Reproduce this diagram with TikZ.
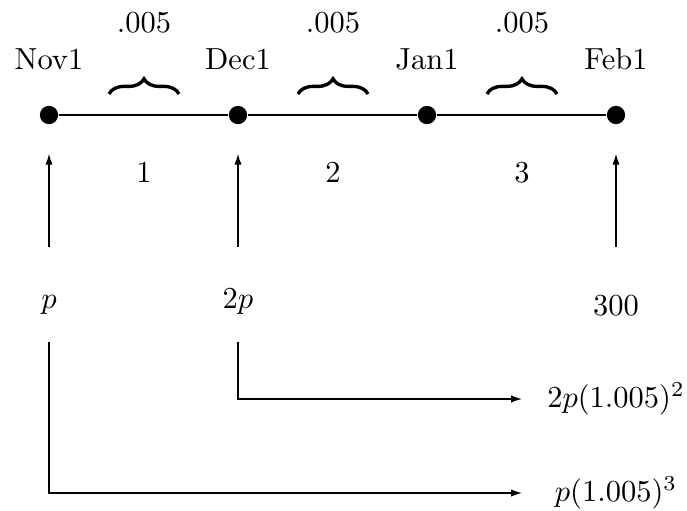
\documentclass[tikz,border=0pt]{standalone}
\usetikzlibrary{arrows.meta,decorations.pathreplacing}
\begin{document}
\begin{tikzpicture}[x=0.328pt,y=-0.328pt,
  dot/.style={circle,fill=black,inner sep=0pt,minimum size=6pt},
  lbl/.style={anchor=base,inner sep=0pt},
  brc/.style={decorate,decoration={brace,amplitude=5pt},line width=1.1pt},
  arr/.style={-{Latex[length=3.6pt,width=2.4pt]},line width=0.4pt},
  tline/.style={line width=0.45pt}]
\useasboundingbox (0,0) rectangle (687,510);

% dates on the time line
\node[dot] (d1) at (49,115) {};
\node[dot] (d2) at (238,115) {};
\node[dot] (d3) at (427,115) {};
\node[dot] (d4) at (616,115) {};
\draw[tline] (d1) -- (d2) -- (d3) -- (d4);

\node[lbl] (nov) at (49,69) {Nov1};
\node[lbl] (dec) at (238,69) {Dec1};
\node[lbl] (jan) at (427,69) {Jan1};
\node[lbl] (feb) at (616,69) {Feb1};

% monthly rate over each period
\coordinate (bl1) at (109,94); \coordinate (br1) at (179,94);
\coordinate (bl2) at (298,94); \coordinate (br2) at (368,94);
\coordinate (bl3) at (487,94); \coordinate (br3) at (557,94);
\draw[brc] (bl1) -- (br1);
\draw[brc] (bl2) -- (br2);
\draw[brc] (bl3) -- (br3);
\node[lbl] (r1) at (144,32) {.005};
\node[lbl] (r2) at (333,32) {.005};
\node[lbl] (r3) at (522,32) {.005};

% period numbers
\node[lbl] (n1) at (144,182) {1};
\node[lbl] (n2) at (333,182) {2};
\node[lbl] (n3) at (522,182) {3};

% payments
\node[lbl] (p1) at (49,308) {$p$};
\node[lbl] (p2) at (238,308) {$2p$};
\node[lbl] (p3) at (616,315) {300};

\coordinate (u1) at (49,247);
\coordinate (u2) at (238,247);
\coordinate (u4) at (616,247);
\draw[arr] (u1) -- ([yshift=-29*0.328pt]d1.south);
\draw[arr] (u2) -- ([yshift=-29*0.328pt]d2.south);
\draw[arr] (u4) -- ([yshift=-29*0.328pt]d4.south);

% accumulated values at Feb1
\node (v2) at (616,399) {$2p(1.005)^2$};
\node (v1) at (616,493) {$p(1.005)^3$};
\coordinate (s2) at (238,342);
\coordinate (s1) at (49,342);
\coordinate (e2) at (522,399);
\coordinate (e1) at (522,493);
\draw[arr] (s2) |- (e2);
\draw[arr] (s1) |- (e1);
\end{tikzpicture}
\end{document}
